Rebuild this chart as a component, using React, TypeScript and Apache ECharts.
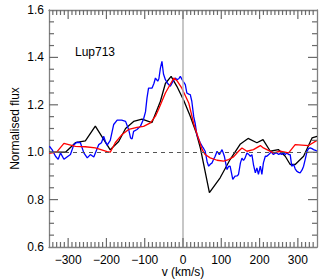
import React, { useEffect, useRef } from "react";
import * as echarts from "echarts";

const xMajorTicks = [-300, -200, -100, 0, 100, 200, 300];
const yTicks = [0.6, 0.8, 1.0, 1.2, 1.4, 1.6];
const starLabel = "Lup713";

const blackVel = [-350, -330, -307, -281, -255, -229, -190, -168, -150, -129, -107, -81, -59, -46, -31, -16, 2, 19, 35, 45, 69, 97, 123, 150, 170, 193, 209, 228, 249, 267, 280, 293, 315, 337, 350];
const blackFlux = [1.0, 1.0, 1.0, 1.04, 1.048, 1.11, 1.01, 1.045, 1.1, 1.13, 1.14, 1.125, 1.215, 1.29, 1.32, 1.278, 1.218, 1.152, 1.08, 1.02, 0.829, 0.892, 0.969, 1.035, 1.058, 1.04, 1.053, 1.004, 1.011, 0.983, 0.948, 0.948, 0.983, 1.06, 1.067];

const redVel = [-350, -330, -311, -281, -255, -229, -198, -190, -177, -159, -142, -120, -103, -85, -72, -64, -46, -24, -15, -3, 15, 28, 40, 50, 58, 71, 89, 106, 119, 132, 145, 154, 167, 184, 202, 210, 236, 254, 276, 293, 328, 350];
const redFlux = [0.995, 1.0, 1.037, 1.025, 1.023, 1.018, 1.002, 1.0, 1.04, 1.075, 1.096, 1.105, 1.109, 1.124, 1.152, 1.18, 1.25, 1.313, 1.3, 1.27, 1.208, 1.12, 1.06, 1.011, 0.99, 0.976, 0.966, 0.962, 0.969, 0.98, 1.004, 1.018, 1.004, 1.011, 1.028, 1.018, 0.997, 1.004, 0.997, 1.032, 1.028, 1.05];

const blueVel = [-349, -342, -333, -326, -320, -311, -303, -294, -285, -277, -268, -259, -250, -242, -233, -220, -213, -207, -203, -198, -190, -181, -172, -160, -150, -142, -137, -133, -129, -120, -111, -103, -98, -94, -90, -81, -76, -72, -66, -63, -59, -55, -51, -46, -40, -33, -26, -20, -16, -11, -7, 0, 6, 10, 15, 19, 23, 28, 32, 36, 45, 52, 58, 63, 67, 72, 76, 80, 84, 89, 95, 102, 108, 112, 115, 119, 123, 127, 130, 136, 141, 145, 150, 154, 158, 162, 167, 172, 176, 180, 184, 189, 193, 197, 202, 206, 210, 215, 219, 224, 228, 232, 236, 240, 245, 250, 254, 258, 263, 267, 271, 276, 280, 284, 289, 293, 297, 302, 306, 311, 315, 320, 324, 328, 332, 337, 341, 346, 350];
const blueFlux = [1.025, 1.011, 0.983, 0.97, 0.997, 0.97, 0.98, 0.99, 1.032, 1.042, 1.04, 0.997, 0.976, 0.99, 0.98, 1.032, 1.04, 1.067, 1.046, 1.03, 1.05, 1.117, 1.135, 1.135, 1.13, 1.096, 1.06, 1.056, 1.088, 1.096, 1.11, 1.14, 1.17, 1.229, 1.27, 1.27, 1.29, 1.313, 1.3, 1.31, 1.355, 1.383, 1.33, 1.306, 1.29, 1.278, 1.3, 1.313, 1.306, 1.31, 1.32, 1.3, 1.285, 1.25, 1.245, 1.243, 1.215, 1.15, 1.12, 1.075, 1.04, 1.02, 1.004, 0.96, 0.941, 0.95, 0.955, 0.97, 0.983, 1.004, 0.99, 1.011, 0.983, 0.95, 0.927, 0.94, 0.941, 0.91, 0.885, 0.899, 0.9, 0.906, 0.955, 0.975, 0.965, 0.975, 0.997, 0.99, 0.983, 0.99, 0.948, 0.913, 0.934, 0.906, 0.941, 0.906, 0.955, 0.983, 0.983, 0.99, 0.997, 1.0, 0.99, 0.995, 0.997, 0.99, 0.995, 0.99, 0.997, 0.99, 0.997, 0.99, 0.99, 0.941, 0.948, 0.93, 0.92, 0.915, 0.913, 0.925, 0.941, 0.975, 1.004, 1.015, 1.018, 1.015, 1.011, 1.008, 1.004];

const pairs = (xs: number[], ys: number[]) => xs.map((x, i) => [x, ys[i]]);

const X_MIN = -350;
const X_MAX = 350;
const Y_MIN = 0.6;
const Y_MAX = 1.6;

const FONT = "Liberation Sans, Arial, Helvetica, sans-serif";
const AXIS_COLOR = "#808080";
const TICK_COLOR = "#6a6a6a";

const labelGraphic = {
  type: "text",
  left: 75,
  top: 46,
  silent: true,
  style: { text: starLabel, fill: "#000", fontSize: 12, fontFamily: FONT },
};

export default function App() {
  const ref = useRef<HTMLDivElement>(null);
  useEffect(() => {
    if (!ref.current) return;
    const chart = echarts.init(ref.current, undefined, { renderer: "svg" });
    const line = (show: boolean) => ({ show, onZero: false, lineStyle: { color: AXIS_COLOR, width: 1.3 } });
    const baseX = {
      type: "value" as const,
      min: X_MIN,
      max: X_MAX,
      interval: 50,
      splitLine: { show: false },
      axisTick: { show: false },
    };
    const baseY = {
      type: "value" as const,
      min: Y_MIN,
      max: Y_MAX,
      interval: 0.2,
      splitLine: { show: false },
      axisTick: { show: false },
    };
    chart.setOption({
      animation: false,
      textStyle: { fontFamily: FONT },
      grid: { left: 49, right: 10, top: 10, bottom: 33, containLabel: false, outerBoundsMode: "none" },
      xAxis: [
        {
          ...baseX,
          position: "bottom",
          name: "v (km/s)",
          nameLocation: "middle",
          nameGap: 19,
          nameMoveOverlap: false,
          nameTextStyle: { color: "#000", fontSize: 12, fontFamily: FONT },
          axisLine: line(true),
          axisLabel: {
            show: true,
            customValues: xMajorTicks,
            color: "#000",
            fontSize: 12,
            fontFamily: FONT,
            margin: 7,
            formatter: (v: number) => (v < 0 ? "\u2212" + Math.abs(v) : String(v)),
          },
        },
        {
          ...baseX,
          position: "top",
          axisLine: line(true),
          axisLabel: { show: false },
        },
      ],
      yAxis: [
        {
          ...baseY,
          position: "left",
          name: "Normalised flux",
          nameLocation: "middle",
          nameGap: 28,
          nameMoveOverlap: false,
          nameTextStyle: { color: "#000", fontSize: 12, fontFamily: FONT },
          axisLine: line(true),
          axisLabel: {
            show: true,
            customValues: yTicks,
            color: "#000",
            fontSize: 12,
            fontFamily: FONT,
            margin: 5,
            formatter: (v: number) => v.toFixed(1),
          },
        },
        {
          ...baseY,
          position: "right",
          axisLine: line(true),
          axisLabel: { show: false },
        },
      ],
      graphic: [labelGraphic],
      series: [
        {
          type: "line",
          name: "ref",
          data: [],
          silent: true,
          markLine: {
            silent: true,
            symbol: "none",
            label: { show: false },
            data: [
              { xAxis: 0, lineStyle: { color: "#b4b4b4", width: 1.5, type: "solid" } },
              { yAxis: 1.0, lineStyle: { color: "#555", width: 1, type: [4, 4] } },
            ],
          },
        },
        {
          type: "line",
          name: "black",
          data: pairs(blackVel, blackFlux),
          showSymbol: false,
          lineStyle: { color: "#000", width: 1.3 },
          silent: true,
        },
        {
          type: "line",
          name: "blue",
          data: pairs(blueVel, blueFlux),
          showSymbol: false,
          lineStyle: { color: "#0000ff", width: 1.3 },
          silent: true,
        },
        {
          type: "line",
          name: "red",
          data: pairs(redVel, redFlux),
          showSymbol: false,
          lineStyle: { color: "#ff0000", width: 1.3 },
          silent: true,
        },
      ],
    });

    // tick marks on all four sides, placed through the chart's own scales
    const finder = { xAxisIndex: 0, yAxisIndex: 0 };
    const toPx = (x: number, y: number) => chart.convertToPixel(finder, [x, y]) as number[];
    const tickStyle = { stroke: TICK_COLOR, lineWidth: 1.2 };
    const ticks: any[] = [];
    for (let v = -340; v <= 340; v += 10) {
      const len = v % 100 === 0 ? 9 : 5;
      const b = toPx(v, Y_MIN);
      const t = toPx(v, Y_MAX);
      if (!b || !t) continue;
      ticks.push({ type: "line", silent: true, z: 100, shape: { x1: b[0], y1: b[1], x2: b[0], y2: b[1] - len }, style: tickStyle });
      ticks.push({ type: "line", silent: true, z: 100, shape: { x1: t[0], y1: t[1], x2: t[0], y2: t[1] + len }, style: tickStyle });
    }
    for (let i = 1; i < 20; i++) {
      const v = Y_MIN + i * 0.05;
      const len = i % 4 === 0 ? 9 : 5;
      const l = toPx(X_MIN, v);
      const r = toPx(X_MAX, v);
      if (!l || !r) continue;
      ticks.push({ type: "line", silent: true, z: 100, shape: { x1: l[0], y1: l[1], x2: l[0] + len, y2: l[1] }, style: tickStyle });
      ticks.push({ type: "line", silent: true, z: 100, shape: { x1: r[0], y1: r[1], x2: r[0] - len, y2: r[1] }, style: tickStyle });
    }
    chart.setOption({ graphic: [labelGraphic, ...ticks] });

    return () => chart.dispose();
  }, []);
  return (
    <div
      ref={ref}
      style={{ position: "fixed", left: 0, top: 0, width: 327, height: 280, background: "#fff" }}
    />
  );
}
